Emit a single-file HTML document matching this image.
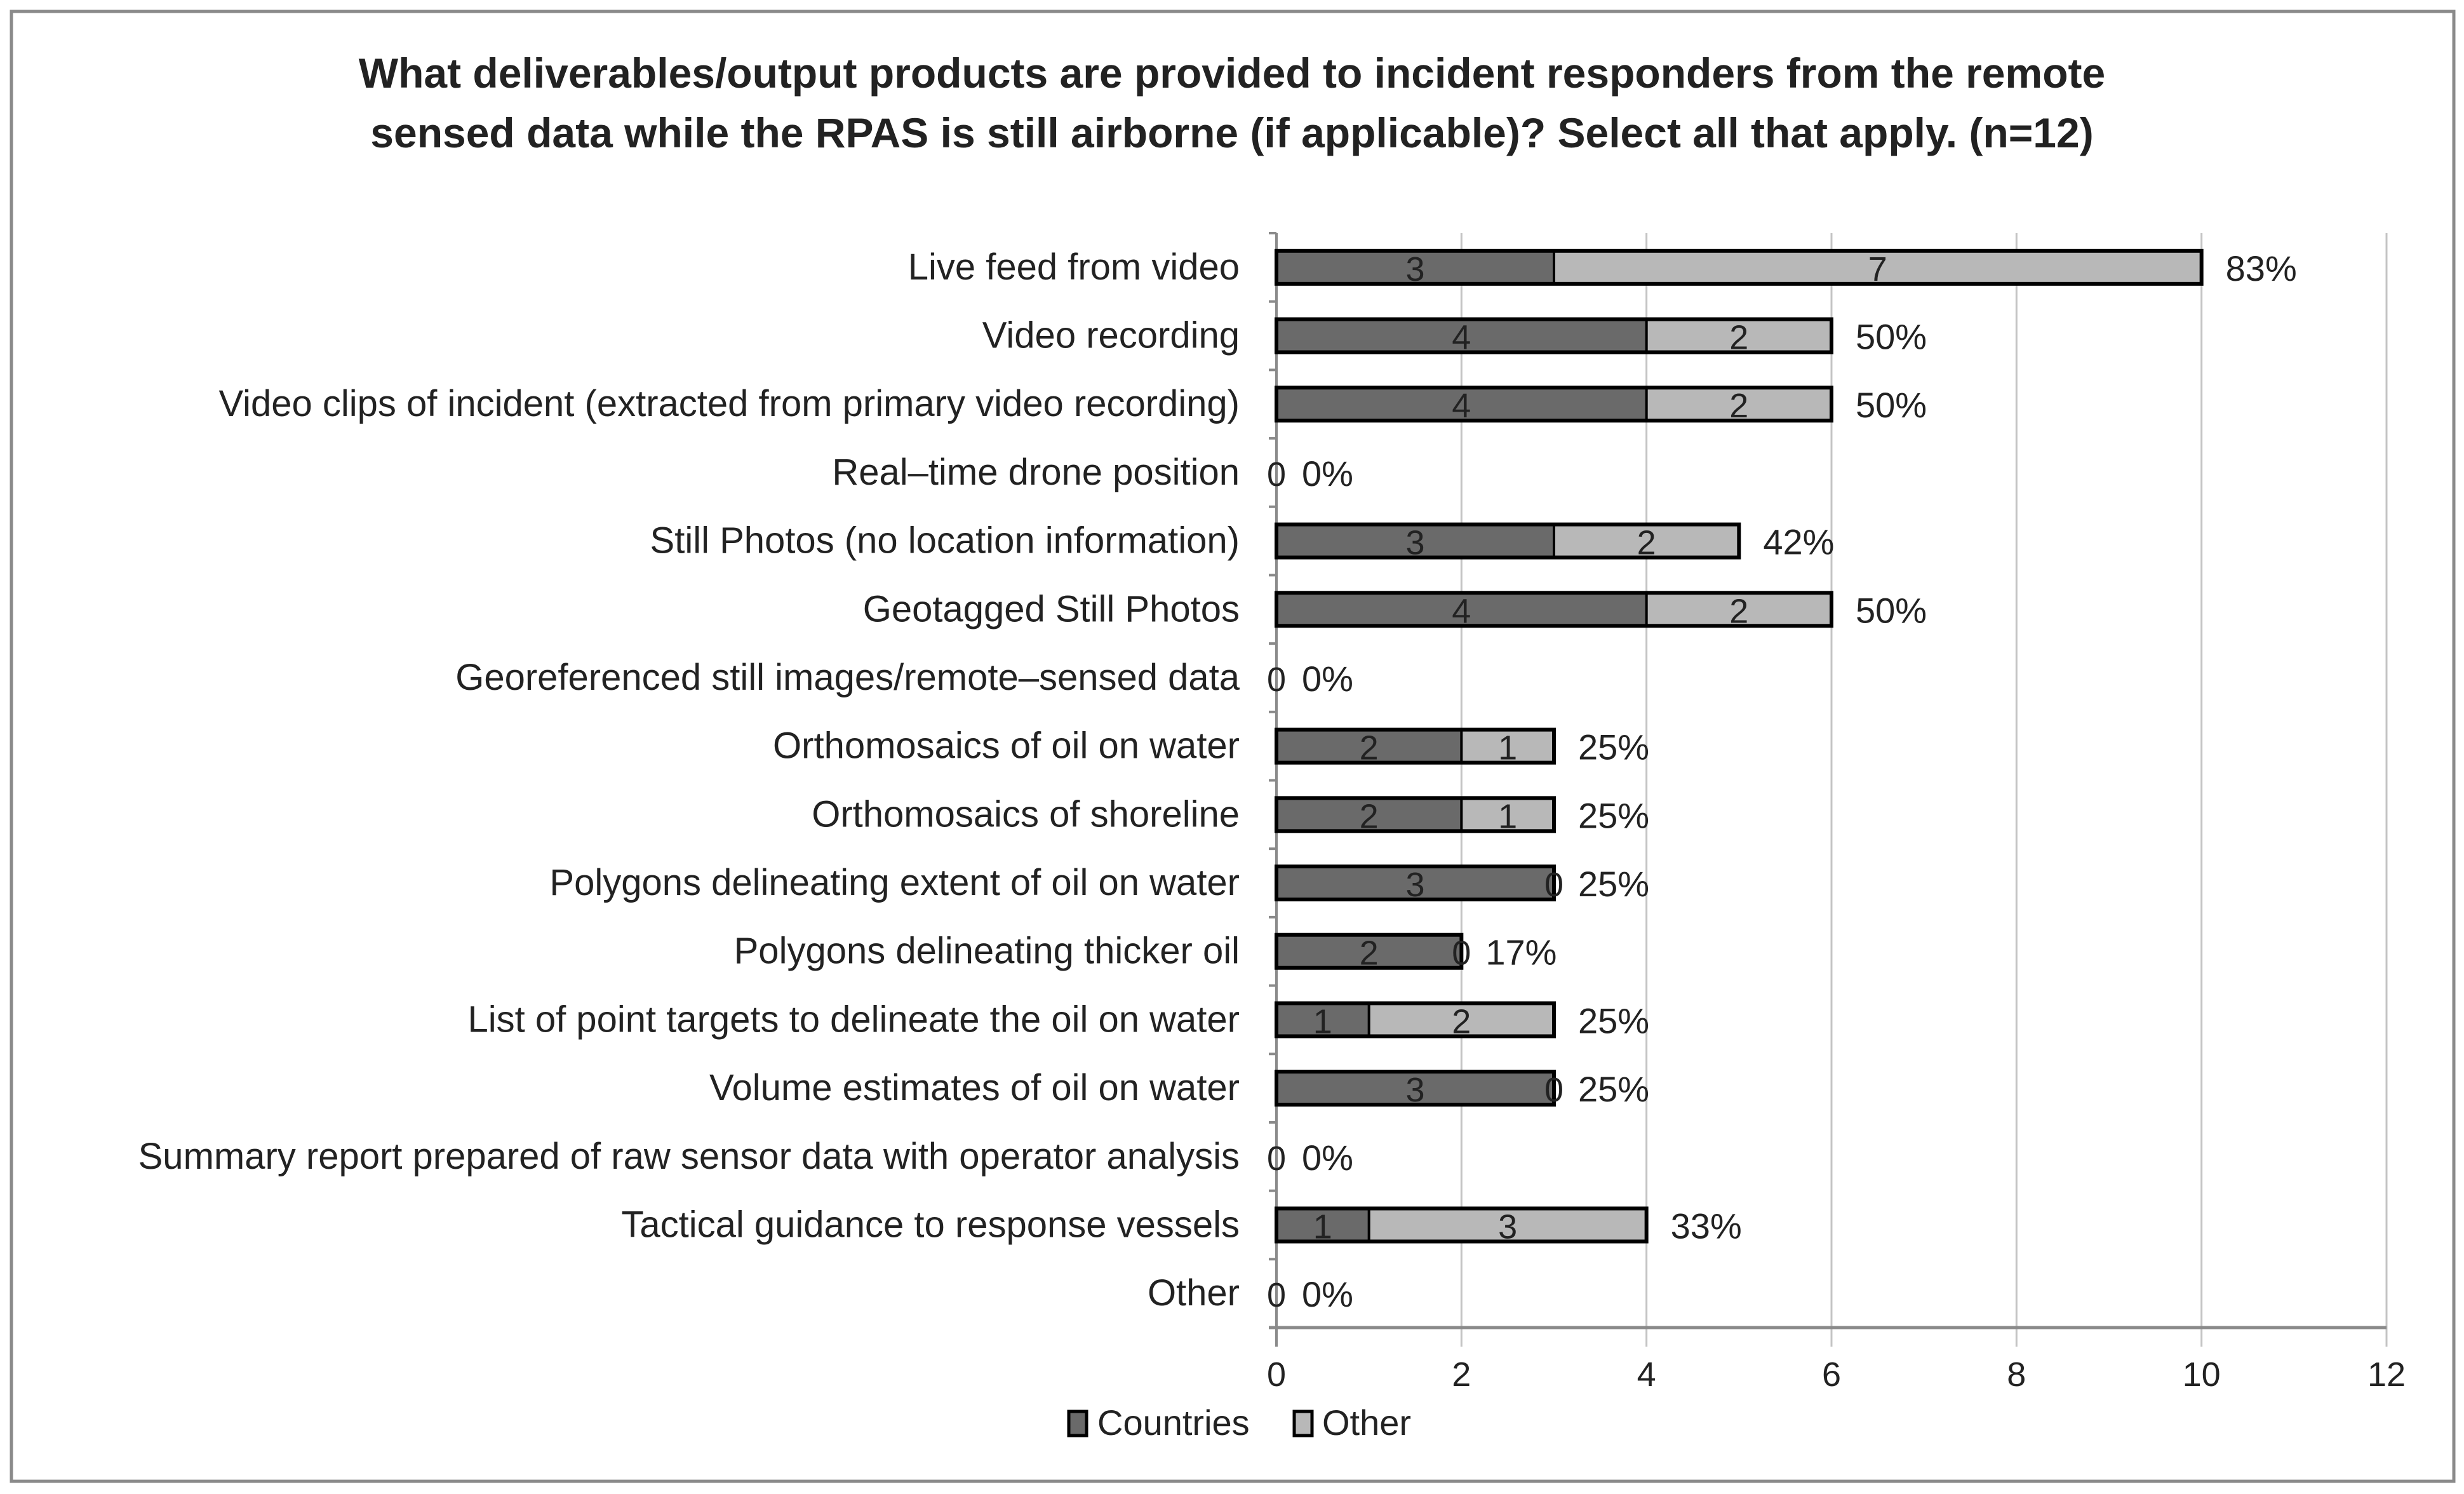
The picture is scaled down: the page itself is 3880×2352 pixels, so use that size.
<!DOCTYPE html>
<html><head><meta charset="utf-8"><style>
html,body{margin:0;padding:0;background:#fff}
svg{display:block}
text{font-family:"Liberation Sans",sans-serif}
</style></head><body>
<svg id="chart" width="3880" height="2352" viewBox="0 0 3880 2352" xmlns="http://www.w3.org/2000/svg">
<rect x="18" y="18" width="3846" height="2314" fill="#fff" stroke="#8a8a8a" stroke-width="5"/>
<text x="1940" y="138" text-anchor="middle" font-size="66" font-weight="bold" fill="#222">What deliverables/output products are provided to incident responders from the remote</text>
<text x="1940" y="232" text-anchor="middle" font-size="66" font-weight="bold" fill="#222">sensed data while the RPAS is still airborne (if applicable)? Select all that apply. (n=12)</text>
<g id="grid"></g>
<g id="bars"></g>
<g id="labels"></g>
<g>
<rect x="1683" y="2222" width="28" height="38" fill="#6a6a6a" stroke="#000" stroke-width="5"/>
<text x="1728" y="2259" font-size="56" fill="#222">Countries</text>
<rect x="2038" y="2222" width="28" height="38" fill="#b8b8b8" stroke="#000" stroke-width="5"/>
<text x="2082" y="2259" font-size="56" fill="#222">Other</text>
</g>
</svg>
<script>
const categories = ["Live feed from video","Video recording","Video clips of incident (extracted from primary video recording)","Real–time drone position","Still Photos (no location information)","Geotagged Still Photos","Georeferenced still images/remote–sensed data","Orthomosaics of oil on water","Orthomosaics of shoreline","Polygons delineating extent of oil on water","Polygons delineating thicker oil","List of point targets to delineate the oil on water","Volume estimates of oil on water","Summary report prepared of raw sensor data with operator analysis","Tactical guidance to response vessels","Other"];
const countries = [3,4,4,0,3,4,0,2,2,3,2,1,3,0,1,0];
const other = [7,2,2,0,2,2,0,1,1,0,0,2,0,0,3,0];
const percents = ["83%","50%","50%","0%","42%","50%","0%","25%","25%","25%","17%","25%","25%","0%","33%","0%"];
const ticks = [0,2,4,6,8,10,12];
const NS="http://www.w3.org/2000/svg";
const X0=2010, X1=3758, XMAX=12, YTOP=367, YBOT=2090;
const band=(YBOT-YTOP)/categories.length;
const xs=v=>X0+(X1-X0)*v/XMAX;
const yc=i=>YTOP+band*(i+0.5);
function mk(tag,attrs,parent){const e=document.createElementNS(NS,tag);for(const k in attrs)e.setAttribute(k,attrs[k]);parent.appendChild(e);return e;}
const grid=document.getElementById('grid'),bars=document.getElementById('bars'),labels=document.getElementById('labels');
ticks.forEach(t=>{
  const g=mk('line',{x1:xs(t),x2:xs(t),y1:YTOP,y2:YBOT+30,stroke:t===0?'#8a8a8a':'#c4c4c4','stroke-width':t===0?4:3},grid);
  
  
  const tl=mk('text',{x:xs(t),y:2182,'text-anchor':'middle','font-size':54,fill:'#222'},grid);
  tl.textContent=t;
  
  
});
const ax=mk('line',{x1:X0-12,x2:X1,y1:YBOT,y2:YBOT,stroke:'#8a8a8a','stroke-width':5},grid);


for(let i=0;i<=categories.length;i++){
  const tk=mk('line',{x1:X0-12,x2:X0,y1:YTOP+band*i,y2:YTOP+band*i,stroke:'#8a8a8a','stroke-width':4},grid);
  
  
}
const BH=52;
categories.forEach((c,i)=>{
  const y=yc(i);
  const lab=mk('text',{x:1952,y:y+19,'text-anchor':'end','font-size':58,fill:'#222'},labels);
  lab.textContent=c;
  
  
  const a=countries[i],b=other[i],tot=a+b;
  if(a>0){
    const r=mk('rect',{x:xs(0),y:y-BH/2,width:xs(a)-xs(0),height:BH,fill:'#6a6a6a'},bars);
    
    
  }
  if(b>0){
    const r=mk('rect',{x:xs(a),y:y-BH/2,width:xs(a+b)-xs(a),height:BH,fill:'#b8b8b8'},bars);
    
    
  }
  if(tot>0){
    const o=mk('rect',{x:xs(0),y:y-BH/2,width:xs(tot)-xs(0),height:BH,fill:'none',stroke:'#000','stroke-width':6},bars);
    
    
    const d=mk('line',{x1:xs(a),x2:xs(a),y1:y-BH/2,y2:y+BH/2,stroke:'#000','stroke-width':4},bars);
    
    
  }
  if(a>0){
    const t=mk('text',{x:(xs(0)+xs(a))/2,y:y+21,'text-anchor':'middle','font-size':54,fill:'#222'},labels);
    t.textContent=a;
    
    
  }
  if(tot>0){
    const t=mk('text',{x:b>0?(xs(a)+xs(tot))/2:xs(tot),y:y+21,'text-anchor':'middle','font-size':54,fill:'#222'},labels);
    t.textContent=b;
    
    
  } else {
    const t=mk('text',{x:xs(0),y:y+21,'text-anchor':'middle','font-size':54,fill:'#222'},labels);
    t.textContent='0';
    
    
  }
  const p=mk('text',{x:xs(tot)+(tot>0?38:40),y:y+21,'font-size':56,fill:'#222'},labels);
  p.textContent=percents[i];
  
  
});
</script>
</body></html>
